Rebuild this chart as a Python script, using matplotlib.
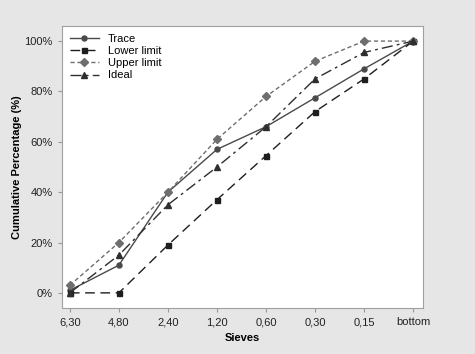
import matplotlib
matplotlib.use("Agg")
import matplotlib.pyplot as plt
from matplotlib.ticker import FuncFormatter

plt.rcParams["font.family"] = ["Liberation Sans", "DejaVu Sans"]

# --- data ---
sieves = ["6,30", "4,80", "2,40", "1,20", "0,60", "0,30", "0,15", "bottom"]
trace = [1, 11, 40, 57, 66, 77.5, 89, 100]
lower_limit = [0, 0, 19, 37, 54.5, 72, 85, 100]
upper_limit = [3, 20, 40, 61, 78, 92, 100, 100]
ideal = [0, 15, 35, 50, 66, 85, 95.5, 100]

x = list(range(len(sieves)))

fig = plt.figure(figsize=(4.75, 3.54), dpi=100)
fig.patch.set_facecolor("#e6e6e6")
ax = fig.add_axes([0.1305, 0.13, 0.76, 0.7966])
ax.set_facecolor("white")

ax.plot(x, trace, color="#4a4a4a", lw=1.0, marker="o", ms=3.6, label="Trace")
ax.plot(x, lower_limit, color="#1e1e1e", lw=1.0, ls=(0, (7, 4)), marker="s", ms=3.6, label="Lower limit")
ax.plot(x, upper_limit, color="#6e6e6e", lw=1.0, ls=(0, (3, 2)), marker="D", ms=3.6, label="Upper limit")
ax.plot(x, ideal, color="#2e2e2e", lw=1.0, ls=(0, (8, 3, 2, 3)), marker="^", ms=4.5, label="Ideal")

ax.set_xlim(-0.16, 7.2)
ax.set_ylim(-6, 106)
ax.set_xticks(x)
ax.set_xticklabels(sieves)
ax.set_yticks([0, 20, 40, 60, 80, 100])
ax.yaxis.set_major_formatter(FuncFormatter(lambda v, p: f"{v:.0f}%"))
ax.tick_params(labelsize=8, length=3, color="#999999", labelcolor="#222222")

for s in ax.spines.values():
    s.set_color("#a0a0a0")

ax.set_xlabel("Sieves", fontsize=8, fontweight="bold")
ax.set_ylabel("Cumulative Percentage (%)", fontsize=8, fontweight="bold")
ax.yaxis.set_label_coords(-0.111, 0.5)
ax.xaxis.set_label_coords(0.5, -0.089)

ax.legend(loc="upper left", frameon=False, fontsize=8, handlelength=2.6,
          labelspacing=0.2, borderaxespad=0.3)

plt.savefig("out.png", dpi=100, facecolor=fig.get_facecolor())
